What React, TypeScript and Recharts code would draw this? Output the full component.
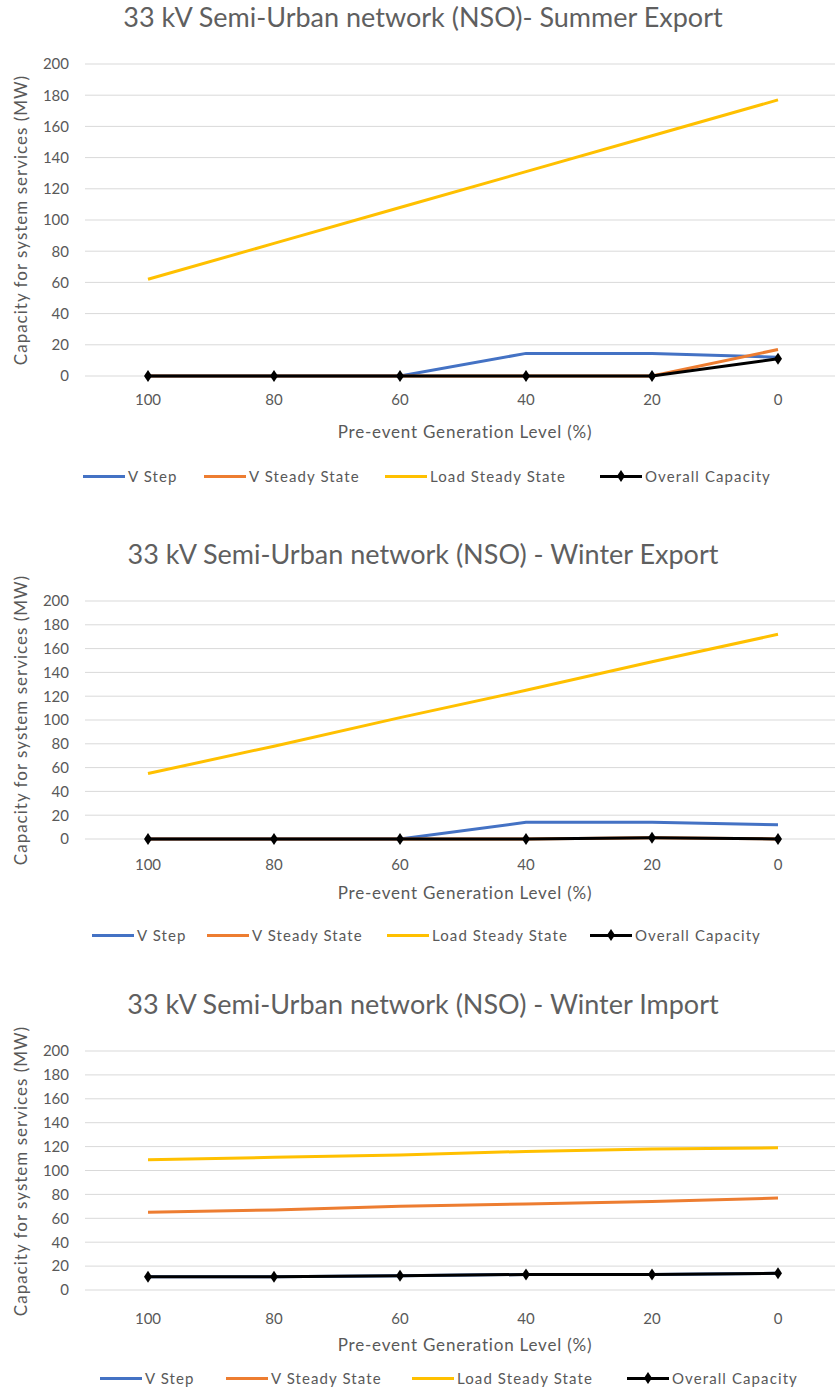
import { CartesianGrid, Line, LineChart, XAxis, YAxis } from "recharts";

// Pre-event generation level, left to right.
const levels = ["100", "80", "60", "40", "20", "0"];
const yTicks = [0, 20, 40, 60, 80, 100, 120, 140, 160, 180, 200];

// Summer export
const summerVStep = [0, 0, 0, 14.5, 14.5, 12];
const summerVSteady = [0, 0, 0, 0, 0, 17];
const summerLoad = [62, 85, 108, 131, 154, 177];
const summerOverall = [0, 0, 0, 0, 0, 11];

// Winter export
const winterExpVStep = [0, 0, 0, 14, 14, 12];
const winterExpVSteady = [0, 0, 0, 0, 1, 0];
const winterExpLoad = [55, 78, 102, 125, 149, 172];
const winterExpOverall = [0, 0, 0, 0, 1, 0];

// Winter import
const winterImpVStep = [11, 11, 12, 13, 13, 14];
const winterImpVSteady = [65, 67, 70, 72, 74, 77];
const winterImpLoad = [109, 111, 113, 116, 118, 119];
const winterImpOverall = [11, 11, 12, 13, 13, 14];

const SERIES = [
  { key: "vStep", name: "V Step", color: "#4472C4" },
  { key: "vSteady", name: "V Steady State", color: "#ED7D31" },
  { key: "load", name: "Load Steady State", color: "#FFC000" },
  { key: "overall", name: "Overall Capacity", color: "#000000" },
] as const;

const FONT = "Lato, 'Liberation Sans', sans-serif";
const TEXT = "#595959";

function buildRows(a: number[], b: number[], c: number[], d: number[]) {
  return levels.map((label, i) => ({
    label,
    vStep: a[i],
    vSteady: b[i],
    load: c[i],
    overall: d[i],
  }));
}

// Diamond marker like Excel's default for the overall series.
function Diamond(props: { cx?: number; cy?: number; index?: number }) {
  const { cx, cy } = props;
  if (cx == null || cy == null) return null;
  return (
    <polygon
      key={props.index}
      points={`${cx},${cy - 6} ${cx + 4},${cy} ${cx},${cy + 6} ${cx - 4},${cy}`}
      fill="#000"
    />
  );
}

type PanelProps = {
  top: number;
  height: number;
  title: string;
  plotTop: number; // relative to panel
  plotBottom: number;
  tickGap: number;
  axisTitleY: number;
  legendY: number;
  legendX: number[]; // line start for each legend item
  rows: ReturnType<typeof buildRows>;
};

function Panel(p: PanelProps) {
  const chartH = p.plotBottom + 40;
  return (
    <div
      style={{
        position: "absolute",
        left: 0,
        top: p.top,
        width: 835,
        height: p.height,
        overflow: "hidden",
        fontFamily: FONT,
        color: TEXT,
      }}
    >
      <div
        style={{
          position: "absolute",
          left: 0,
          width: 846,
          top: p.plotTop - 63,
          textAlign: "center",
          fontSize: 27,
          lineHeight: "32px",
          color: "#5f5f5f",
        }}
      >
        {p.title}
      </div>
      <div
        style={{
          position: "absolute",
          left: 20,
          top: (p.plotTop + p.plotBottom) / 2,
          transform: "translate(-50%, -50%) rotate(-90deg)",
          whiteSpace: "nowrap",
          fontSize: 17,
          letterSpacing: 1,
        }}
      >
        Capacity for system services (MW)
      </div>
      <div style={{ position: "absolute", left: 0, top: 0 }}>
        <LineChart
          width={841}
          height={chartH}
          data={p.rows}
          margin={{ top: p.plotTop, right: 0, left: 0, bottom: 0 }}
        >
          <CartesianGrid stroke="#d9d9d9" vertical={false} />
          <XAxis
            dataKey="label"
            axisLine={false}
            tickLine={false}
            tickSize={0}
            tickMargin={p.tickGap}
            height={40}
            padding={{ left: 63, right: 63 }}
            tick={{ fill: TEXT, fontSize: 15, fontFamily: FONT }}
          />
          <YAxis
            domain={[0, 200]}
            ticks={yTicks}
            interval={0}
            axisLine={false}
            tickLine={false}
            tickSize={0}
            tickMargin={16}
            width={85}
            tick={{ fill: TEXT, fontSize: 15, fontFamily: FONT }}
          />
          {SERIES.map((s) => (
            <Line
              key={s.key}
              dataKey={s.key}
              name={s.name}
              stroke={s.color}
              strokeWidth={3}
              dot={s.key === "overall" ? <Diamond /> : false}
              activeDot={false}
              isAnimationActive={false}
            />
          ))}
        </LineChart>
      </div>
      <div
        style={{
          position: "absolute",
          left: 0,
          width: 930,
          top: p.axisTitleY - 10,
          textAlign: "center",
          fontSize: 17,
          letterSpacing: 0.8,
          lineHeight: "20px",
        }}
      >
        Pre-event Generation Level (%)
      </div>
      {SERIES.map((s, i) => (
        <div
          key={s.key}
          style={{
            position: "absolute",
            left: p.legendX[i],
            top: p.legendY - 9,
            display: "flex",
            alignItems: "center",
            fontSize: 15,
            letterSpacing: 1.1,
            lineHeight: "18px",
            whiteSpace: "nowrap",
          }}
        >
          <span
            style={{
              position: "relative",
              display: "inline-block",
              width: 42,
              height: 3,
              background: s.color,
              marginRight: 3,
            }}
          >
            {s.key === "overall" && (
              <svg
                width={8}
                height={12}
                style={{ position: "absolute", left: 17, top: -4.5 }}
              >
                <polygon points="4,0 8,6 4,12 0,6" fill="#000" />
              </svg>
            )}
          </span>
          {s.name}
        </div>
      ))}
    </div>
  );
}

export default function App() {
  return (
    <div
      style={{
        position: "absolute",
        left: 0,
        top: 0,
        width: 835,
        height: 1390,
        background: "#fff",
      }}
    >
      <Panel
        top={0}
        height={515}
        title="33 kV Semi-Urban network (NSO)- Summer Export"
        plotTop={64}
        plotBottom={376}
        tickGap={18}
        axisTitleY={432}
        legendY={476}
        legendX={[83, 204, 385, 600]}
        rows={buildRows(summerVStep, summerVSteady, summerLoad, summerOverall)}
      />
      <Panel
        top={515}
        height={445}
        title="33 kV Semi-Urban network (NSO) - Winter Export"
        plotTop={601 - 515}
        plotBottom={839 - 515}
        tickGap={20}
        axisTitleY={893 - 515}
        legendY={935 - 515}
        legendX={[92, 207, 387, 590]}
        rows={buildRows(winterExpVStep, winterExpVSteady, winterExpLoad, winterExpOverall)}
      />
      <Panel
        top={960}
        height={430}
        title="33 kV Semi-Urban network (NSO) - Winter Import"
        plotTop={1051 - 960}
        plotBottom={1290 - 960}
        tickGap={23}
        axisTitleY={1345 - 960}
        legendY={1378 - 960}
        legendX={[100, 226, 412, 627]}
        rows={buildRows(winterImpVStep, winterImpVSteady, winterImpLoad, winterImpOverall)}
      />
    </div>
  );
}
